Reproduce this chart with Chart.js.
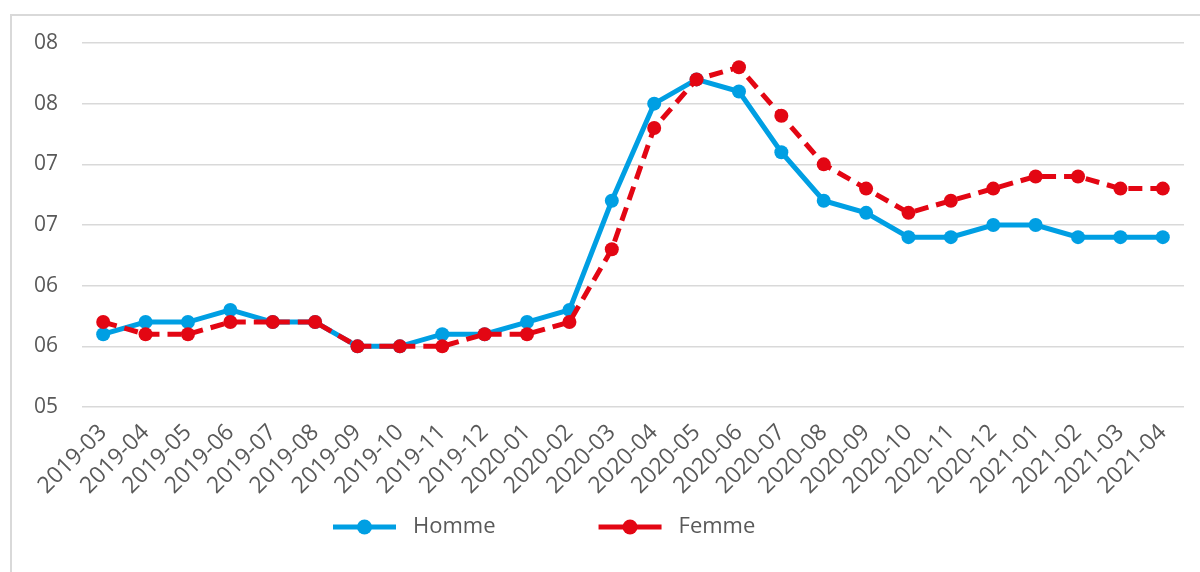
<!DOCTYPE html>
<html>
<head>
<meta charset="utf-8">
<script src="https://cdn.jsdelivr.net/npm/chart.js@4"></script>
<style>
  body { margin: 0; background: #fff; }
  #frame { position: absolute; left: 10px; top: 14px; width: 1400px; height: 800px; border: 2px solid #d9d9d9; }
  #wrap { position: absolute; left: 0; top: 0; width: 1200px; height: 572px; }
</style>
</head>
<body>
<div id="frame"></div>
<div id="wrap"><canvas id="salaryChart"></canvas></div>
<script>
const months = ['2019-03', '2019-04', '2019-05', '2019-06', '2019-07', '2019-08', '2019-09', '2019-10',
  '2019-11', '2019-12', '2020-01', '2020-02', '2020-03', '2020-04', '2020-05', '2020-06', '2020-07',
  '2020-08', '2020-09', '2020-10', '2020-11', '2020-12', '2021-01', '2021-02', '2021-03', '2021-04'];
const homme = [5.6, 5.7, 5.7, 5.8, 5.7, 5.7, 5.5, 5.5, 5.6, 5.6, 5.7, 5.8, 6.7, 7.5, 7.7, 7.6, 7.1,
  6.7, 6.6, 6.4, 6.4, 6.5, 6.5, 6.4, 6.4, 6.4];
const femme = [5.7, 5.6, 5.6, 5.7, 5.7, 5.7, 5.5, 5.5, 5.5, 5.6, 5.6, 5.7, 6.3, 7.3, 7.7, 7.8, 7.4,
  7.0, 6.8, 6.6, 6.7, 6.8, 6.9, 6.9, 6.8, 6.8];
const seriesNames = ['Homme', 'Femme'];

const BLUE = '#009fe3';
const RED = '#e30613';
const GREY_TEXT = '#595959';
const FONT = '"Open Sans", sans-serif';

// legend drawn by hand so the marker is a line with a dot, like the original
const lineLegend = {
  id: 'lineLegend',
  afterDraw(chart) {
    const ctx = chart.ctx;
    const y = 527;
    let x = 333;
    ctx.save();
    ctx.font = '22px ' + FONT;
    ctx.textBaseline = 'middle';
    chart.data.datasets.forEach(ds => {
      ctx.strokeStyle = ds.borderColor;
      ctx.lineWidth = 5;
      ctx.beginPath();
      ctx.moveTo(x, y);
      ctx.lineTo(x + 63, y);
      ctx.stroke();
      ctx.fillStyle = ds.borderColor;
      ctx.beginPath();
      ctx.arc(x + 31.5, y, 7.5, 0, Math.PI * 2);
      ctx.fill();
      ctx.fillStyle = GREY_TEXT;
      ctx.fillText(ds.label, x + 80, y);
      x += 80 + ctx.measureText(ds.label).width + 103;
    });
    ctx.restore();
  }
};

function drawChart() {
  const ctx = document.getElementById('salaryChart').getContext('2d');
  new Chart(ctx, {
    type: 'line',
    data: {
      labels: months,
      datasets: [
        {
          label: seriesNames[0],
          data: homme,
          borderColor: BLUE,
          backgroundColor: BLUE,
          borderWidth: 5,
          pointRadius: 7,
          pointBorderWidth: 0,
          order: 1,
          fill: false
        },
        {
          label: seriesNames[1],
          data: femme,
          borderColor: RED,
          backgroundColor: RED,
          borderWidth: 5,
          borderDash: [14, 8],
          pointRadius: 7,
          pointBorderWidth: 0,
          order: 0,
          fill: false
        }
      ]
    },
    options: {
      responsive: true,
      maintainAspectRatio: false,
      animation: false,
      layout: { padding: { left: 0, top: 43, right: 16, bottom: 0 } },
      plugins: {
        legend: { display: false },
        tooltip: { enabled: false }
      },
      scales: {
        x: {
          offset: true,
          grid: { display: false },
          border: { display: false },
          ticks: {
            color: GREY_TEXT,
            font: { family: FONT, size: 23 },
            maxRotation: 45,
            minRotation: 45,
            autoSkip: false,
            padding: 4
          },
          afterFit(scale) { scale.height = 165; }
        },
        y: {
          min: 5,
          max: 8,
          grid: { color: '#d9d9d9', lineWidth: 1.5, drawTicks: false },
          border: { display: false },
          ticks: {
            stepSize: 0.5,
            color: GREY_TEXT,
            font: { family: FONT, size: 21 },
            padding: 24,
            callback: v => String(Math.round(v)).padStart(2, '0')
          },
          afterFit(scale) { scale.width = 82; }
        }
      }
    },
    plugins: [lineLegend]
  });
}

document.addEventListener('DOMContentLoaded', drawChart);
</script>
</body>
</html>
